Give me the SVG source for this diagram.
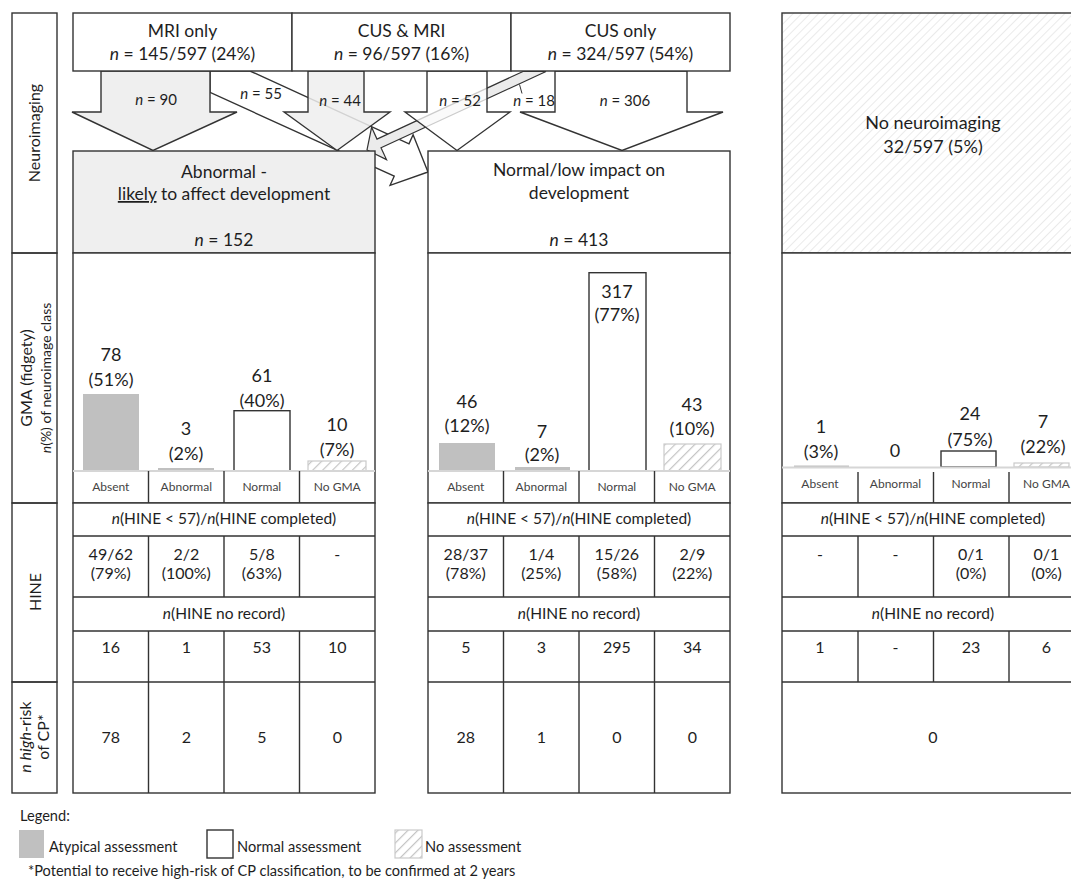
<svg xmlns="http://www.w3.org/2000/svg" width="1071" height="886" viewBox="0 0 1071 886">
<style>
text{font-family:Lato,"Open Sans","Liberation Sans",sans-serif;fill:#1e1e1e;}
.b{fill:none;stroke:#333;stroke-width:1.4;}
.w{fill:#fff;stroke:#333;stroke-width:1.4;}
.g{fill:#efefef;stroke:#333;stroke-width:1.4;}
.ln{stroke:#333;stroke-width:1.4;fill:none;}
.base{stroke:#d6d6d6;stroke-width:2;}
.t17{font-size:17.5px;text-anchor:middle;}
.t18{font-size:18px;text-anchor:middle;}
.t16{font-size:16px;text-anchor:middle;}
.th{font-size:15.5px;text-anchor:middle;}
.t15{font-size:15px;text-anchor:middle;}
.cat{font-size:12px;text-anchor:middle;fill:#444;}
.bar{fill:#c0c0c0;}
.hb{fill:url(#hatchBar);stroke:#cacaca;stroke-width:1.2;}
.lg{font-size:14.6px;}
.it{font-style:italic;}
</style>
<defs>
<pattern id="hatchFine" patternUnits="userSpaceOnUse" width="6" height="6" patternTransform="rotate(45)">
<rect width="6" height="6" fill="#fff"/>
<line x1="0" y1="0" x2="0" y2="6" stroke="#dcdcdc" stroke-width="1.2"/>
</pattern>
<pattern id="hatchBar" patternUnits="userSpaceOnUse" width="7" height="7" patternTransform="rotate(45)">
<rect width="7" height="7" fill="#fff"/>
<line x1="0" y1="0" x2="0" y2="7" stroke="#c4c4c4" stroke-width="2.4"/>
</pattern>
</defs>
<rect width="1071" height="886" fill="#fff"/>

<g id="connectors">
<polygon id="arrow-n55" class="w" points="210,71 250,71 409,143.8 413.1,134.7 428,172 390.1,185.3 394.2,176.2 210,92.4"/>
<polygon id="arrow-n44" points="308,71 364,71 364,112 390,112 337,150.5 284,112 308,112" fill="#efefef" fill-opacity="0.85" stroke="#333" stroke-width="1.4"/>
<polygon id="arrow-n90" class="g" points="101,71 210,71 210,112 237,112 153,150.5 72,112 101,112"/>
<polygon id="arrow-n18" points="523,71.5 377,139.1 371.6,127.3 367,150 386.5,159.6 381,147.8 546,71.5" fill="#ebebeb" stroke="#333" stroke-width="1.2"/>
<polygon id="arrow-n52" points="427,71 487,71 487,112 510,112 457,150.5 405,112 427,112" fill="#fff" fill-opacity="0.75" stroke="#333" stroke-width="1.4"/>
<polygon id="arrow-n306" class="w" points="555,71 687,71 687,112 723,112 622,150.5 520,112 555,112"/>
<line x1="519.5" y1="84.5" x2="522" y2="93.5" stroke="#333" stroke-width="1"/>
<text class="t15" x="156" y="105"><tspan class="it">n</tspan> = 90</text>
<text class="t15" x="261" y="99"><tspan class="it">n</tspan> = 55</text>
<text class="t15" x="340" y="106"><tspan class="it">n</tspan> = 44</text>
<text class="t15" x="460" y="106"><tspan class="it">n</tspan> = 52</text>
<text class="t15" x="534" y="106"><tspan class="it">n</tspan> = 18</text>
<text class="t15" x="625" y="106"><tspan class="it">n</tspan> = 306</text>
</g>

<g id="row-labels">
<rect class="b" x="12" y="13" width="45" height="240"/>
<rect class="b" x="12" y="253" width="45" height="250"/>
<rect class="b" x="12" y="503" width="45" height="179"/>
<rect class="b" x="12" y="682" width="45" height="111"/>
<text class="t16" transform="translate(40,133) rotate(-90)">Neuroimaging</text>
<text class="t16" transform="translate(32,378) rotate(-90)">GMA (fidgety)</text>
<text font-size="14" text-anchor="middle" transform="translate(51,378) rotate(-90)"><tspan class="it">n</tspan>(%) of neuroimage class</text>
<text class="t16" transform="translate(41,592) rotate(-90)">HINE</text>
<text class="t16" transform="translate(31,737) rotate(-90)"><tspan class="it">n high</tspan>-risk</text>
<text class="t16" transform="translate(49,737) rotate(-90)">of CP*</text>
</g>

<g id="mri-only">
<rect class="w" x="73" y="13" width="219" height="58"/>
<text class="t17" x="182.5" y="37">MRI only</text>
<text class="t17" x="182.5" y="60"><tspan class="it">n</tspan> = 145/597 (24%)</text>
</g>
<g id="cus-mri">
<rect class="w" x="292" y="13" width="219" height="58"/>
<text class="t17" x="401.5" y="37">CUS &amp; MRI</text>
<text class="t17" x="401.5" y="60"><tspan class="it">n</tspan> = 96/597 (16%)</text>
</g>
<g id="cus-only">
<rect class="w" x="511" y="13" width="219" height="58"/>
<text class="t17" x="620.5" y="37">CUS only</text>
<text class="t17" x="620.5" y="60"><tspan class="it">n</tspan> = 324/597 (54%)</text>
</g>

<g id="abnormal">
<rect class="g" x="73" y="151" width="302" height="102"/>
<text class="t17" x="224" y="178">Abnormal -</text>
<text class="t17" x="224" y="200"><tspan text-decoration="underline">likely</tspan> to affect development</text>
<text class="t17" x="224" y="246"><tspan class="it">n</tspan> = 152</text>
</g>
<g id="normal">
<rect class="w" x="428" y="151" width="302" height="102"/>
<text class="t17" x="579" y="176">Normal/low impact on</text>
<text class="t17" x="579" y="199">development</text>
<text class="t17" x="579" y="246"><tspan class="it">n</tspan> = 413</text>
</g>
<g id="no-neuroimaging">
<rect x="782" y="13" width="302" height="240" fill="url(#hatchFine)" stroke="#333" stroke-width="1.4"/>
<text class="t18" x="933" y="129">No neuroimaging</text>
<text class="t18" x="933" y="153">32/597 (5%)</text>
</g>

<g id="gma-abnormal">
<rect class="w" x="73" y="253" width="302" height="250"/>
<rect class="bar" x="83" y="394" width="56" height="77"/>
<rect class="bar" x="158" y="468" width="56" height="3"/>
<rect class="w" x="234" y="410.7" width="56" height="60.3"/>
<rect class="hb" x="308" y="461" width="58" height="10"/>
<line class="base" x1="73" y1="471" x2="375" y2="471"/>
<path class="ln" d="M148.5,471V503M224,471V503M299.5,471V503"/>
<text class="t18" x="111" y="361">78</text><text class="t18" x="111" y="386">(51%)</text>
<text class="t18" x="186" y="435">3</text><text class="t18" x="186" y="460">(2%)</text>
<text class="t18" x="262" y="382">61</text><text class="t18" x="262" y="407">(40%)</text>
<text class="t18" x="337" y="431">10</text><text class="t18" x="337" y="456">(7%)</text>
<text class="cat" x="110.8" y="491">Absent</text><text class="cat" x="186.3" y="491">Abnormal</text><text class="cat" x="261.8" y="491">Normal</text><text class="cat" x="337.3" y="491">No GMA</text>
</g>
<g id="gma-normal">
<rect class="w" x="428" y="253" width="302" height="250"/>
<rect class="bar" x="439" y="443" width="56" height="28"/>
<rect class="bar" x="515" y="467" width="55" height="4"/>
<rect class="w" x="589" y="272.7" width="57" height="198.3"/>
<rect class="hb" x="664" y="444" width="57" height="27"/>
<line class="base" x1="428" y1="471" x2="730" y2="471"/>
<path class="ln" d="M503.5,471V503M579,471V503M654.5,471V503"/>
<text class="t18" x="467" y="408">46</text><text class="t18" x="467" y="432">(12%)</text>
<text class="t18" x="542" y="438">7</text><text class="t18" x="542" y="461">(2%)</text>
<text class="t18" x="617" y="298">317</text><text class="t18" x="617" y="321">(77%)</text>
<text class="t18" x="692" y="411">43</text><text class="t18" x="692" y="435">(10%)</text>
<text class="cat" x="465.8" y="491">Absent</text><text class="cat" x="541.3" y="491">Abnormal</text><text class="cat" x="616.8" y="491">Normal</text><text class="cat" x="692.3" y="491">No GMA</text>
</g>
<g id="gma-none">
<rect class="w" x="782" y="253" width="302" height="250"/>
<rect class="bar" x="794" y="465.5" width="55" height="1.5"/>
<rect class="w" x="941" y="451" width="55" height="16"/>
<rect class="hb" x="1014" y="463" width="55" height="4"/>
<line class="base" x1="782" y1="467.5" x2="1084" y2="467.5"/>
<path class="ln" d="M858,472V503M933.5,472V503M1009,472V503"/>
<text class="t18" x="821" y="433">1</text><text class="t18" x="821" y="458">(3%)</text>
<text class="t18" x="895" y="457">0</text>
<text class="t18" x="970" y="420">24</text><text class="t18" x="970" y="446">(75%)</text>
<text class="t18" x="1043" y="428">7</text><text class="t18" x="1043" y="453">(22%)</text>
<text class="cat" x="820" y="488">Absent</text><text class="cat" x="895.5" y="488">Abnormal</text><text class="cat" x="971" y="488">Normal</text><text class="cat" x="1046.5" y="488">No GMA</text>
</g>

<g id="hine-abnormal">
<rect class="w" x="73" y="503" width="302" height="290"/>
<path class="ln" d="M73,536H375M73,597H375M73,631H375M73,682H375M148.5,536V597M224,536V597M299.5,536V597M148.5,631V793M224,631V793M299.5,631V793"/>
<text class="th" x="224" y="524"><tspan class="it">n</tspan>(HINE &lt; 57)/<tspan class="it">n</tspan>(HINE completed)</text>
<text class="t16" x="110.8" y="560">49/62</text><text class="t16" x="110.8" y="579">(79%)</text>
<text class="t16" x="186.3" y="560">2/2</text><text class="t16" x="186.3" y="579">(100%)</text>
<text class="t16" x="261.8" y="560">5/8</text><text class="t16" x="261.8" y="579">(63%)</text>
<text class="t16" x="337.3" y="560">-</text>
<text class="th" x="224" y="619"><tspan class="it">n</tspan>(HINE no record)</text>
<text class="t16" x="110.8" y="653">16</text><text class="t16" x="186.3" y="653">1</text><text class="t16" x="261.8" y="653">53</text><text class="t16" x="337.3" y="653">10</text>
<text class="t16" x="110.8" y="743">78</text><text class="t16" x="186.3" y="743">2</text><text class="t16" x="261.8" y="743">5</text><text class="t16" x="337.3" y="743">0</text>
</g>
<g id="hine-normal">
<rect class="w" x="428" y="503" width="302" height="290"/>
<path class="ln" d="M428,536H730M428,597H730M428,631H730M428,682H730M503.5,536V597M579,536V597M654.5,536V597M503.5,631V793M579,631V793M654.5,631V793"/>
<text class="th" x="579" y="524"><tspan class="it">n</tspan>(HINE &lt; 57)/<tspan class="it">n</tspan>(HINE completed)</text>
<text class="t16" x="465.8" y="560">28/37</text><text class="t16" x="465.8" y="579">(78%)</text>
<text class="t16" x="541.3" y="560">1/4</text><text class="t16" x="541.3" y="579">(25%)</text>
<text class="t16" x="616.8" y="560">15/26</text><text class="t16" x="616.8" y="579">(58%)</text>
<text class="t16" x="692.3" y="560">2/9</text><text class="t16" x="692.3" y="579">(22%)</text>
<text class="th" x="579" y="619"><tspan class="it">n</tspan>(HINE no record)</text>
<text class="t16" x="465.8" y="653">5</text><text class="t16" x="541.3" y="653">3</text><text class="t16" x="616.8" y="653">295</text><text class="t16" x="692.3" y="653">34</text>
<text class="t16" x="465.8" y="743">28</text><text class="t16" x="541.3" y="743">1</text><text class="t16" x="616.8" y="743">0</text><text class="t16" x="692.3" y="743">0</text>
</g>
<g id="hine-none">
<rect class="w" x="782" y="503" width="302" height="290"/>
<path class="ln" d="M782,536H1084M782,597H1084M782,631H1084M782,682H1084M858,536V597M933.5,536V597M1009,536V597M858,631V682M933.5,631V682M1009,631V682"/>
<text class="th" x="933" y="524"><tspan class="it">n</tspan>(HINE &lt; 57)/<tspan class="it">n</tspan>(HINE completed)</text>
<text class="t16" x="820" y="560">-</text><text class="t16" x="895.5" y="560">-</text>
<text class="t16" x="971" y="560">0/1</text><text class="t16" x="971" y="579">(0%)</text>
<text class="t16" x="1046.5" y="560">0/1</text><text class="t16" x="1046.5" y="579">(0%)</text>
<text class="th" x="933" y="619"><tspan class="it">n</tspan>(HINE no record)</text>
<text class="t16" x="820" y="653">1</text><text class="t16" x="895.5" y="653">-</text><text class="t16" x="971" y="653">23</text><text class="t16" x="1046.5" y="653">6</text>
<text class="t16" x="933" y="743">0</text>
</g>

<g id="legend">
<text class="lg" x="20" y="821">Legend:</text>
<rect x="19" y="830" width="25" height="28" fill="#c0c0c0"/>
<text class="lg" x="49" y="852">Atypical assessment</text>
<rect class="w" x="207" y="830" width="26" height="28"/>
<text class="lg" x="237" y="852">Normal assessment</text>
<rect class="hb" x="395" y="830" width="27" height="28"/>
<text class="lg" x="425" y="852">No assessment</text>
<text class="lg" x="28" y="876">*Potential to receive high-risk of CP classification, to be confirmed at 2 years</text>
</g>
</svg>
